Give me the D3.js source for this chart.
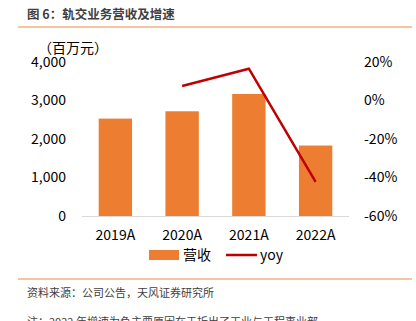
<!DOCTYPE html>
<html>
<head>
<meta charset="utf-8">
<script src="https://cdn.jsdelivr.net/npm/d3@7"></script>
<style>
  body { margin: 0; background: #fff; }
  svg { display: block; }
  text { font-family: "Noto Sans CJK SC", "Noto Sans", sans-serif; }
</style>
</head>
<body>
<script>
const years = ['2019A', '2020A', '2021A', '2022A'];
const revenue = [2530, 2720, 3170, 1830];
const yoyYears = ['2020A', '2021A', '2022A'];
const yoy = [7.5, 16.5, -42.3];
const leftTicks = [0, 1000, 2000, 3000, 4000];
const rightTicks = [-60, -40, -20, 0, 20];

const width = 416;
const height = 321;
const plot = { left: 82, right: 349, top: 62, bottom: 216 };

const svg = d3.select('body').append('svg').attr('width', width).attr('height', height);

// header
svg.append('text')
  .attr('x', 27).attr('y', 19)
  .attr('font-size', 12.5).attr('font-weight', 'bold').attr('fill', '#404040')
  .text('图 6：轨交业务营收及增速');
svg.append('line')
  .attr('x1', 18).attr('x2', 412).attr('y1', 27).attr('y2', 27)
  .attr('stroke', '#f4b183').attr('stroke-width', 1.5);

const x = d3.scaleBand().domain(years).range([plot.left, plot.right]).paddingInner(0.5).paddingOuter(0.25);
const yLeft = d3.scaleLinear().domain([0, 4000]).range([plot.bottom, plot.top]);
const yRight = d3.scaleLinear().domain([-60, 20]).range([plot.bottom, plot.top]);

// axes
const leftAxis = d3.axisLeft(yLeft).tickValues(leftTicks).tickSize(0).tickPadding(0).tickFormat(d3.format(','));
const gl = svg.append('g').attr('transform', `translate(66,0)`).call(leftAxis);
gl.select('.domain').remove();
gl.selectAll('text').attr('font-size', 14).attr('fill', '#000');

const rightAxis = d3.axisRight(yRight).tickValues(rightTicks).tickSize(0).tickPadding(0).tickFormat(d => d + '%');
const gr = svg.append('g').attr('transform', `translate(364,0)`).call(rightAxis);
gr.select('.domain').remove();
gr.selectAll('text').attr('font-size', 14).attr('fill', '#000');

svg.append('text')
  .attr('x', 38).attr('y', 53)
  .attr('font-size', 14).attr('fill', '#000')
  .text('（百万元）');

// bars
svg.selectAll('rect.bar')
  .data(revenue)
  .enter()
  .append('rect')
  .attr('class', 'bar')
  .attr('x', (d, i) => x(years[i]))
  .attr('width', x.bandwidth())
  .attr('y', d => yLeft(d))
  .attr('height', d => yLeft(0) - yLeft(d))
  .attr('fill', '#ed7d31');

// baseline
svg.append('line')
  .attr('x1', plot.left).attr('x2', plot.right)
  .attr('y1', plot.bottom + 0.5).attr('y2', plot.bottom + 0.5)
  .attr('stroke', '#d9d9d9');

// yoy line
const line = d3.line()
  .x((d, i) => x(yoyYears[i]) + x.bandwidth() / 2)
  .y(d => yRight(d));
svg.append('path')
  .datum(yoy)
  .attr('d', line)
  .attr('fill', 'none')
  .attr('stroke', '#c00000')
  .attr('stroke-width', 2.5);

// category labels
const xAxis = d3.axisBottom(x).tickSize(0).tickPadding(0);
const gx = svg.append('g').attr('transform', `translate(0,${plot.bottom + 14})`).call(xAxis);
gx.select('.domain').remove();
gx.selectAll('text').attr('font-size', 14).attr('fill', '#000');

// legend
const legend = svg.append('g').attr('transform', 'translate(0,255)');
legend.append('rect').attr('x', 149).attr('y', -5).attr('width', 30).attr('height', 10).attr('fill', '#ed7d31');
legend.append('text').attr('x', 183).attr('y', 5).attr('font-size', 14).text('营收');
legend.append('line').attr('x1', 226).attr('x2', 257).attr('y1', 0).attr('y2', 0)
  .attr('stroke', '#c00000').attr('stroke-width', 2.5);
legend.append('text').attr('x', 260).attr('y', 5).attr('font-size', 14).text('yoy');

// footer
svg.append('line')
  .attr('x1', 18).attr('x2', 412).attr('y1', 279).attr('y2', 279)
  .attr('stroke', '#f4b183').attr('stroke-width', 1.5);
svg.append('text')
  .attr('x', 27).attr('y', 297)
  .attr('font-size', 11).attr('fill', '#404040')
  .text('资料来源：公司公告，天风证券研究所');
svg.append('text')
  .attr('x', 27).attr('y', 326)
  .attr('font-size', 11).attr('fill', '#404040')
  .text('注：2022 年增速为负主要原因在于拆出了工业与工程事业部');
</script>
</body>
</html>
